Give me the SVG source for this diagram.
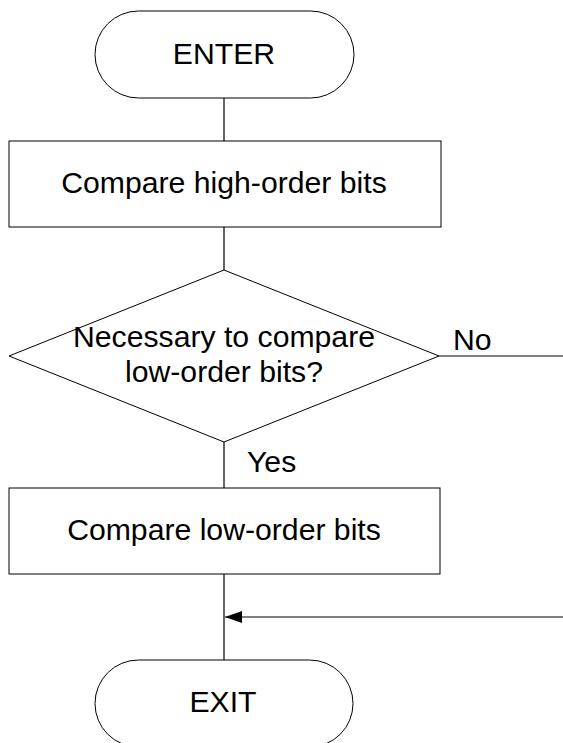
<svg xmlns="http://www.w3.org/2000/svg" width="563" height="743" viewBox="0 0 563 743">
<style>
.s{fill:#fff;stroke:#000;stroke-width:1}
.c{fill:none;stroke:#000;stroke-width:1.2}
text{font-family:"Liberation Sans",Arial,sans-serif;font-size:30.2px;fill:#000}
.m{text-anchor:middle}
</style>
<defs>
<marker id="ah" markerWidth="17" markerHeight="12" refX="17" refY="6" orient="auto" markerUnits="userSpaceOnUse">
<path d="M17,6 L0,0 L0,12 Z" fill="#000"/>
</marker>
</defs>
<rect width="563" height="743" fill="#fff"/>
<g id="connectors">
<line class="c" x1="224" y1="98" x2="224" y2="141"/>
<line class="c" x1="224" y1="227" x2="224" y2="270"/>
<line class="c" x1="224" y1="442" x2="224" y2="488"/>
<line class="c" x1="439" y1="356" x2="563" y2="356"/>
<line class="c" x1="224" y1="574" x2="224" y2="660"/>
<line class="c" x1="563" y1="617" x2="225" y2="617" marker-end="url(#ah)"/>
<text x="453" y="350">No</text>
<text x="247" y="472">Yes</text>
</g>
<g id="enter">
<rect class="s" x="95" y="11" width="259" height="87" rx="43.5" ry="43.5"/>
<text class="m" x="224" y="64">ENTER</text>
</g>
<g id="high">
<rect class="s" x="9" y="141" width="432" height="86"/>
<text class="m" x="224" y="193">Compare high-order bits</text>
</g>
<g id="decision">
<polygon class="s" points="224,270 439,356 224,442 9,356"/>
<text class="m" x="224" y="347">Necessary to compare</text>
<text class="m" x="224" y="382">low-order bits?</text>
</g>
<g id="low">
<rect class="s" x="9" y="488" width="431" height="86"/>
<text class="m" x="224" y="540">Compare low-order bits</text>
</g>
<g id="exit">
<rect class="s" x="95" y="660" width="258" height="87" rx="43.5" ry="43.5"/>
<text class="m" x="223" y="712">EXIT</text>
</g>
</svg>
